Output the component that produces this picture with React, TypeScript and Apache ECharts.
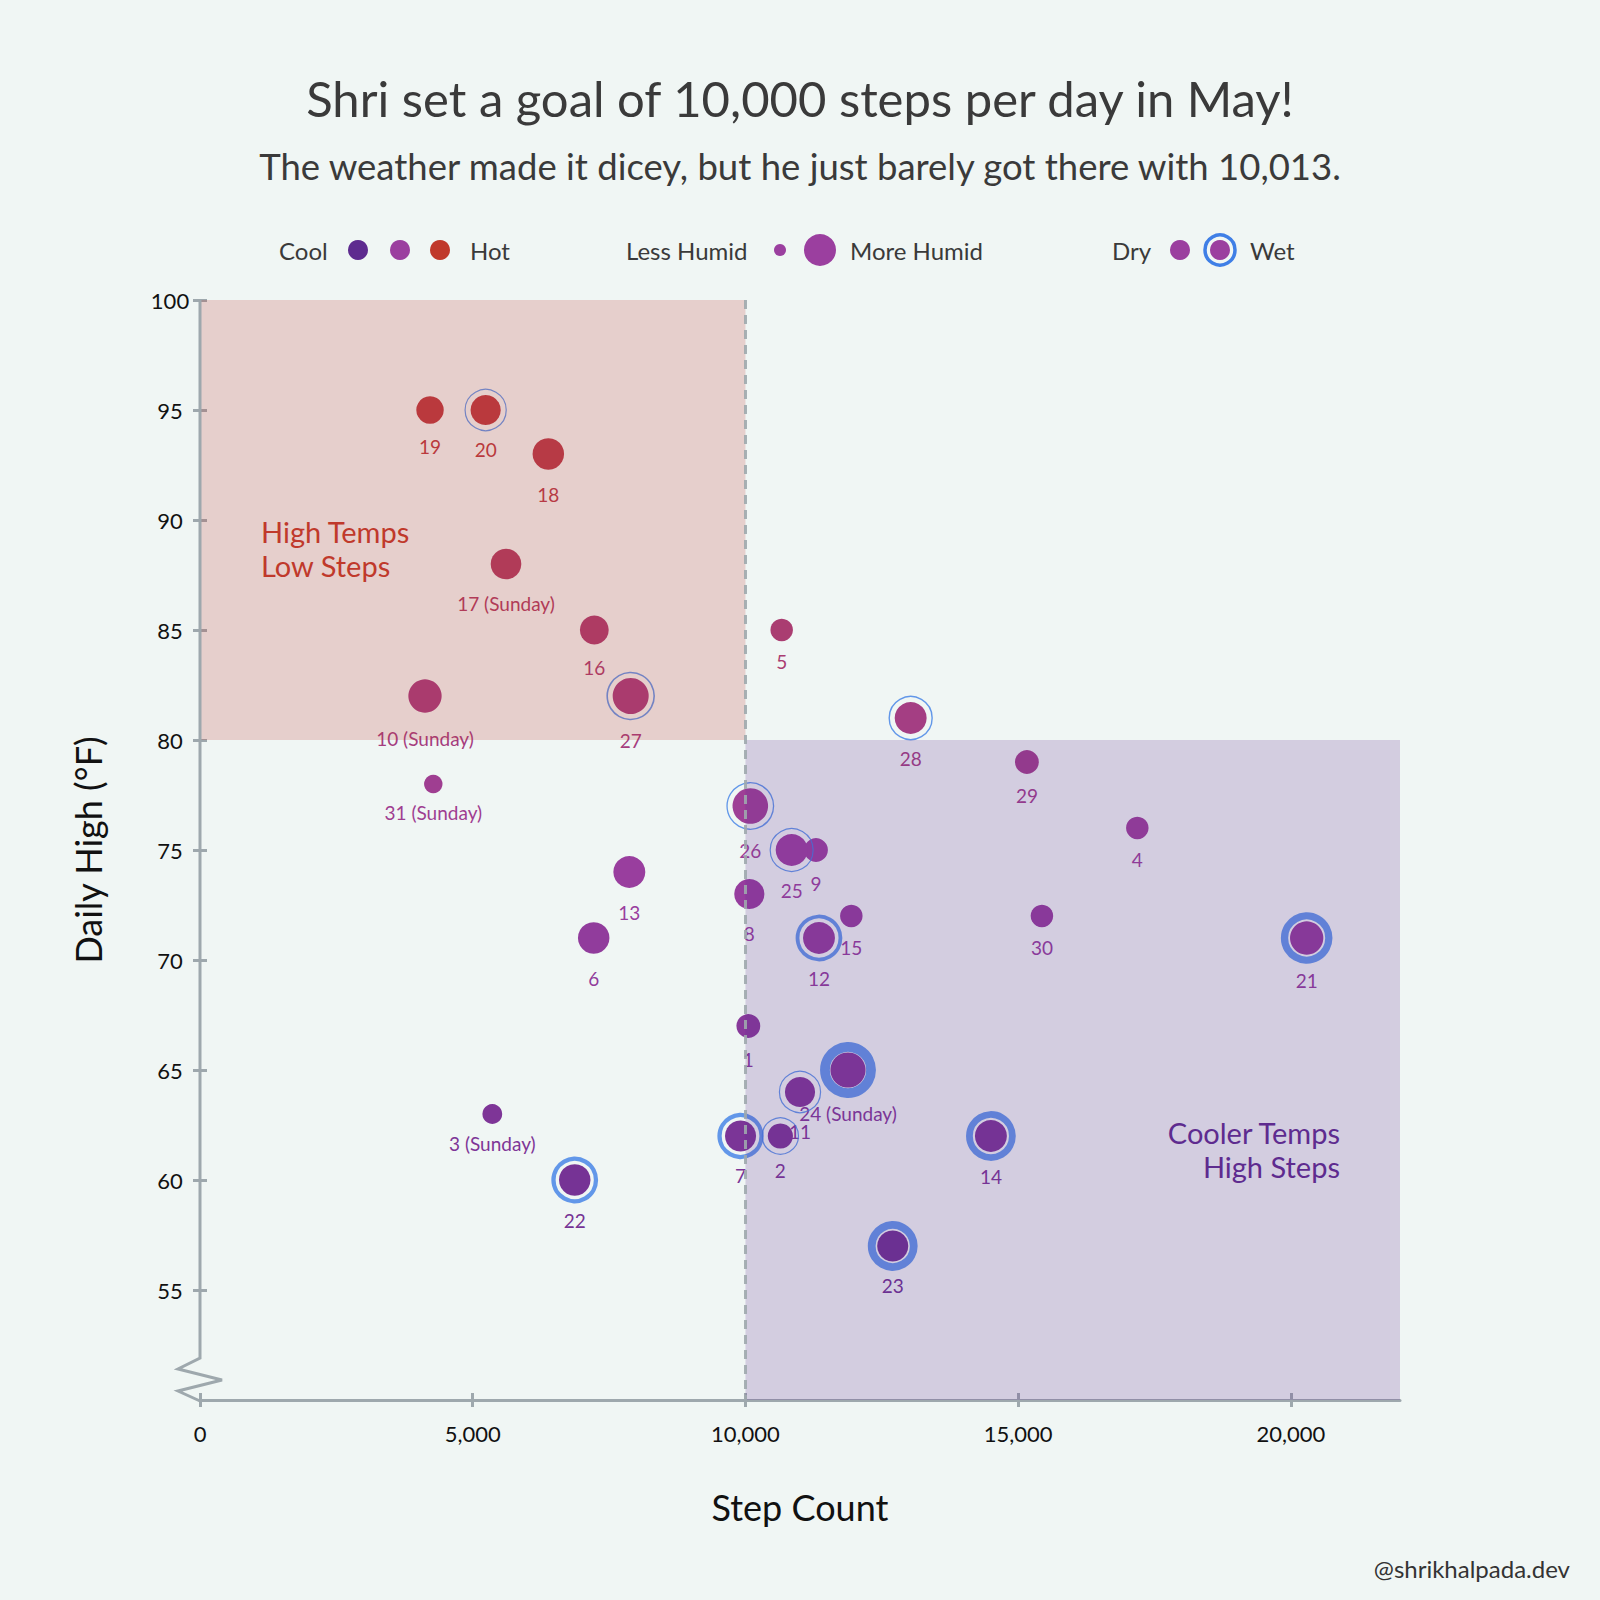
import React, { useEffect, useRef } from "react";
import * as echarts from "echarts";

// ---- data ----
const days = [1, 2, 3, 4, 5, 6, 7, 8, 9, 10, 11, 12, 13, 14, 15, 16, 17, 18, 19, 20, 21, 22, 23, 24, 25, 26, 27, 28, 29, 30, 31];
const steps = [10053, 10640, 5359, 17184, 10664, 7218, 9910, 10071, 11293, 4125, 11000, 11348, 7871, 14500, 11941, 7229, 5610, 6386, 4217, 5237, 20289, 6870, 12700, 11880, 10847, 10089, 7896, 13029, 15160, 15435, 4277];
const highs = [67, 62, 63, 76, 85, 71, 62, 73, 75, 82, 64, 71, 74, 62, 72, 85, 88, 93, 95, 95, 71, 60, 57, 65, 75, 77, 82, 81, 79, 72, 78];
const humidity = [53, 56, 44, 50, 50, 70, 69, 67, 53, 74, 67, 71, 71, 71, 50, 64, 68, 70, 61, 67, 74, 70, 69, 78, 71, 79, 80, 71, 53, 50, 41];
const rain = [0, 0.04, 0, 0, 0, 0, 0.35, 0, 0, 0, 0.04, 0.3, 0, 0.6, 0, 0, 0, 0, 0, 0.04, 0.65, 0.35, 0.7, 0.9, 0.04, 0.05, 0.08, 0.06, 0, 0, 0];
const sundays = [3, 10, 17, 24, 31];

const xTicks = [0, 5000, 10000, 15000, 20000];
const yTicks = [55, 60, 65, 70, 75, 80, 85, 90, 95, 100];
const xMin = 0;
const xMax = 22000;
const yMin = 50;
const yMax = 100;
const goalSteps = 10000;
const hotLine = 80;

const titleText = "Shri set a goal of 10,000 steps per day in May!";
const subtitleText = "The weather made it dicey, but he just barely got there with 10,013.";
const xName = "Step Count";
const yName = "Daily High (°F)";
const credit = "@shrikhalpada.dev";

// ---- styles ----
const FONT = "Lato, 'Noto Sans', sans-serif";
const COOL = "#5e2b8f";
const MID = "#9b3f9f";
const HOT = "#c0392b";
const RING = "#3f7fe6";
const BG = "#f0f6f4";
const AXIS = "#9ea8ad";
const TEXT = "#3a3a3a";
const G = { left: 200, right: 200, top: 300, bottom: 200 };
const W = 1600;
const H = 1600;

const radius = (h: number) => 9 + (h - 40) * 0.225;
const ringWidth = (r: number) => 0.8 + r * 10;

export default function App() {
  const ref = useRef<HTMLDivElement>(null);
  useEffect(() => {
    const chart = echarts.init(ref.current!, null, { renderer: "svg" });
    const dots = days.map((d, i) => {
      const r = radius(humidity[i]);
      return {
        name: sundays.includes(d) ? `${d} (Sunday)` : `${d}`,
        value: [steps[i], highs[i], humidity[i]],
        symbolSize: 2 * r,
        label: { distance: 1 + 0.9 * r },
      };
    });
    const rings: any[] = [];
    days.forEach((d, i) => {
      if (rain[i] > 0) {
        const r = radius(humidity[i]);
        rings.push({
          name: `${d}`,
          value: [steps[i], highs[i], rain[i]],
          symbolSize: 2 * (r + 5.5),
          itemStyle: { borderWidth: ringWidth(rain[i]) },
        });
      }
    });

    const bottomY = H - G.bottom;
    const leftX = G.left;
    const legendY = 250;
    const txt = (x: number, y: number, text: string, size: number, fill: string, align = "left", extra: any = {}) => ({
      type: "text",
      x,
      y,
      z: 100,
      ...extra,
      style: { text, fontSize: size, fontFamily: FONT, fill, align, verticalAlign: "middle", ...(extra.style || {}) },
    });
    const circ = (cx: number, cy: number, r: number, fill: string, stroke?: string, lw?: number) => ({
      type: "circle",
      z: 100,
      shape: { cx, cy, r },
      style: { fill, stroke: stroke || null, lineWidth: lw || 0 },
    });

    const graphic: any[] = [
      txt(W / 2, 98, titleText, 49, TEXT, "center"),
      txt(W / 2, 166, subtitleText, 36.5, TEXT, "center"),
      // legend
      txt(279, legendY, "Cool", 24, TEXT),
      circ(358, legendY, 10, COOL),
      circ(400, legendY, 10, MID),
      circ(440, legendY, 10, HOT),
      txt(470, legendY, "Hot", 24, TEXT),
      txt(626, legendY, "Less Humid", 24, TEXT),
      circ(780, legendY, 6, MID),
      circ(820, legendY, 16, MID),
      txt(850, legendY, "More Humid", 24, TEXT),
      txt(1112, legendY, "Dry", 24, TEXT),
      circ(1180, legendY, 10, MID),
      circ(1220, legendY, 10, MID),
      circ(1220, legendY, 15, "none", RING, 3.5),
      txt(1250, legendY, "Wet", 24, TEXT),
      // quadrant notes
      txt(261, 531, "High Temps", 29, HOT),
      txt(261, 565, "Low Steps", 29, HOT),
      txt(1340, 1132, "Cooler Temps", 29, COOL, "right"),
      txt(1340, 1166, "High Steps", 29, COOL, "right"),
      // axis names
      txt(W / 2, 1507, xName, 36, "#111", "center"),
      { ...txt(88, (G.top + bottomY) / 2, yName, 36, "#111", "center"), rotation: Math.PI / 2 },
      txt(1570, 1568, credit, 24, "#333", "right"),
      // y axis line with break
      {
        type: "polyline",
        z: 50,
        shape: {
          points: [
            [leftX, G.top],
            [leftX, bottomY - 42],
            [leftX - 22, bottomY - 31],
            [leftX + 22, bottomY - 20],
            [leftX - 22, bottomY - 9],
            [leftX, bottomY + 1],
          ],
        },
        style: { stroke: AXIS, lineWidth: 3, fill: null },
      },
    ];

    const tickStyle = { color: AXIS, width: 3 };
    const labelStyle = { fontSize: 22, color: "#111", fontFamily: FONT };

    chart.setOption({
      animation: false,
      backgroundColor: BG,
      textStyle: { fontFamily: FONT },
      grid: { ...G, containLabel: false },
      xAxis: [
        {
          type: "value",
          min: xMin,
          max: xMax,
          interval: 5000,
          splitLine: { show: false },
          axisLine: { show: true, lineStyle: { color: AXIS, width: 3 } },
          axisTick: { show: true, length: 7, lineStyle: tickStyle, customValues: xTicks },
          axisLabel: {
            ...labelStyle,
            margin: 22,
            customValues: xTicks,
            formatter: (v: number) => v.toLocaleString("en-US"),
          },
        },
        {
          type: "value",
          position: "bottom",
          min: xMin,
          max: xMax,
          interval: 5000,
          splitLine: { show: false },
          axisLine: { show: false },
          axisTick: { show: true, inside: true, length: 7, lineStyle: tickStyle, customValues: xTicks },
          axisLabel: { show: false },
        },
      ],
      yAxis: [
        {
          type: "value",
          min: yMin,
          max: yMax,
          interval: 5,
          splitLine: { show: false },
          axisLine: { show: false },
          axisTick: { show: true, length: 7, lineStyle: tickStyle, customValues: yTicks },
          axisLabel: { ...labelStyle, margin: 30, align: "center", customValues: yTicks },
        },
        {
          type: "value",
          position: "left",
          min: yMin,
          max: yMax,
          interval: 5,
          splitLine: { show: false },
          axisLine: { show: false },
          axisTick: { show: true, inside: true, length: 7, lineStyle: tickStyle, customValues: yTicks },
          axisLabel: { show: false },
        },
      ],
      visualMap: [
        {
          type: "continuous",
          show: false,
          dimension: 1,
          seriesIndex: [0],
          min: 50,
          max: 100,
          inRange: { color: [COOL, MID, HOT] },
        },
      ],
      series: [
        {
          type: "scatter",
          name: "days",
          z: 2,
          data: dots,
          symbol: "circle",
          itemStyle: { opacity: 1 },
          label: {
            show: true,
            position: "bottom",
            formatter: "{b}",
            fontSize: 19,
            fontFamily: FONT,
            color: "inherit",
          },
          emphasis: { disabled: true },
        },
        {
          type: "scatter",
          name: "rain",
          z: 3,
          data: rings,
          symbol: "circle",
          itemStyle: { color: "rgba(0,0,0,0)", borderColor: RING },
          emphasis: { disabled: true },
          silent: true,
        },
        {
          type: "scatter",
          name: "zones",
          z: 5,
          data: [],
          silent: true,
          markArea: {
            silent: true,
            z: 5,
            data: [
              [
                { coord: [xMin, yMax], itemStyle: { color: "rgba(192,57,43,0.2)" } },
                { coord: [goalSteps, hotLine] },
              ],
              [
                { coord: [goalSteps, hotLine], itemStyle: { color: "rgba(94,43,143,0.2)" } },
                { coord: [xMax, yMin] },
              ],
            ],
          },
          markLine: {
            silent: true,
            z: 6,
            symbol: ["none", "none"],
            label: { show: false },
            lineStyle: { type: [9, 6], color: AXIS, width: 3, opacity: 0.9 },
            data: [[{ coord: [goalSteps, yMax] }, { coord: [goalSteps, yMin] }]],
          },
        },
      ],
      graphic,
    });
    return () => chart.dispose();
  }, []);
  return <div ref={ref} style={{ position: "absolute", left: 0, top: 0, width: W, height: H }} />;
}
